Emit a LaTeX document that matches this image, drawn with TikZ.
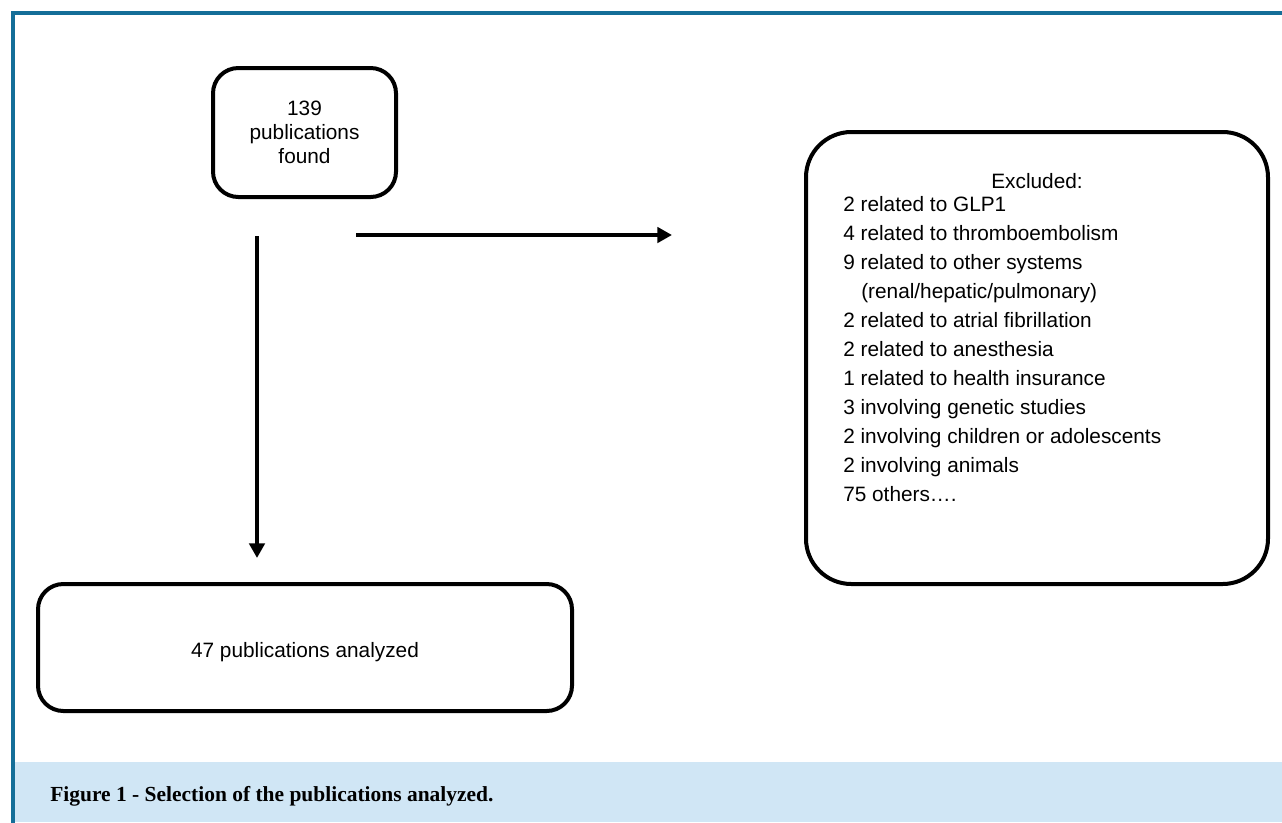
\documentclass[tikz,border=0pt]{standalone}
\usepackage{fontspec}
\setmainfont{Liberation Sans}
\newfontfamily\capfont{Liberation Serif}
\usetikzlibrary{arrows.meta}
\definecolor{framebl}{RGB}{20,110,152}
\definecolor{capbl}{RGB}{208,230,245}
\tikzset{
  box/.style={draw,line width=3pt,rounded corners=19pt,align=center,inner sep=0pt,
    font=\fontsize{15.6}{18}\selectfont},
  arr/.style={line width=3.5pt,-{Triangle[length=11pt,width=11.5pt]}},
  item/.style={anchor=base west,inner sep=0pt,font=\fontsize{15.6}{18}\selectfont},
}
\begin{document}
\begin{tikzpicture}[x=0.75pt,y=-0.75pt]
  \useasboundingbox (0,0) rectangle (1282,822);
  % frame and caption band
  \fill[capbl] (13,762) rectangle (1282,822);
  \draw[framebl,line width=3pt] (1290,13) -- (13,13) -- (13,830);
  \node[anchor=base west,inner sep=0pt,font=\capfont\bfseries\fontsize{16.1}{19}\selectfont] (cap) at (50,801)
    {Figure 1 - Selection of the publications analyzed.};
  % boxes
  \node[box,minimum width=137.25pt,minimum height=96.75pt] (found) at (304.5,132.5) {139\\publications\\found};
  \node[box,minimum width=400.5pt,minimum height=95.25pt] (anal) at (305,647.5)
    {\raisebox{-3.5pt}[11pt][3pt]{47 publications analyzed}};
  \node[box,rounded corners=34pt,minimum width=346.5pt,minimum height=339pt] (excl) at (1037,358) {};
  \node[item,anchor=base] (exhead) at (1037,188.5) {Excluded:};
  \foreach \t [count=\i] in {2 related to GLP1,4 related to thromboembolism,9 related to other systems,
    \hspace*{13.5pt}(renal/hepatic/pulmonary),2 related to atrial fibrillation,2 related to anesthesia,
    1 related to health insurance,3 involving genetic studies,2 involving children or adolescents,
    2 involving animals,75 others….}
    \node[item] (ex\i) at (843,{182.5+29*\i}) {\t};
  % arrows
  \coordinate (v0) at (257,236);
  \coordinate (v1) at (257,558);
  \coordinate (h0) at (356,235);
  \coordinate (h1) at (672,235);
  \draw[arr] (v0) -- (v1);
  \draw[arr] (h0) -- (h1);
\end{tikzpicture}
\end{document}
